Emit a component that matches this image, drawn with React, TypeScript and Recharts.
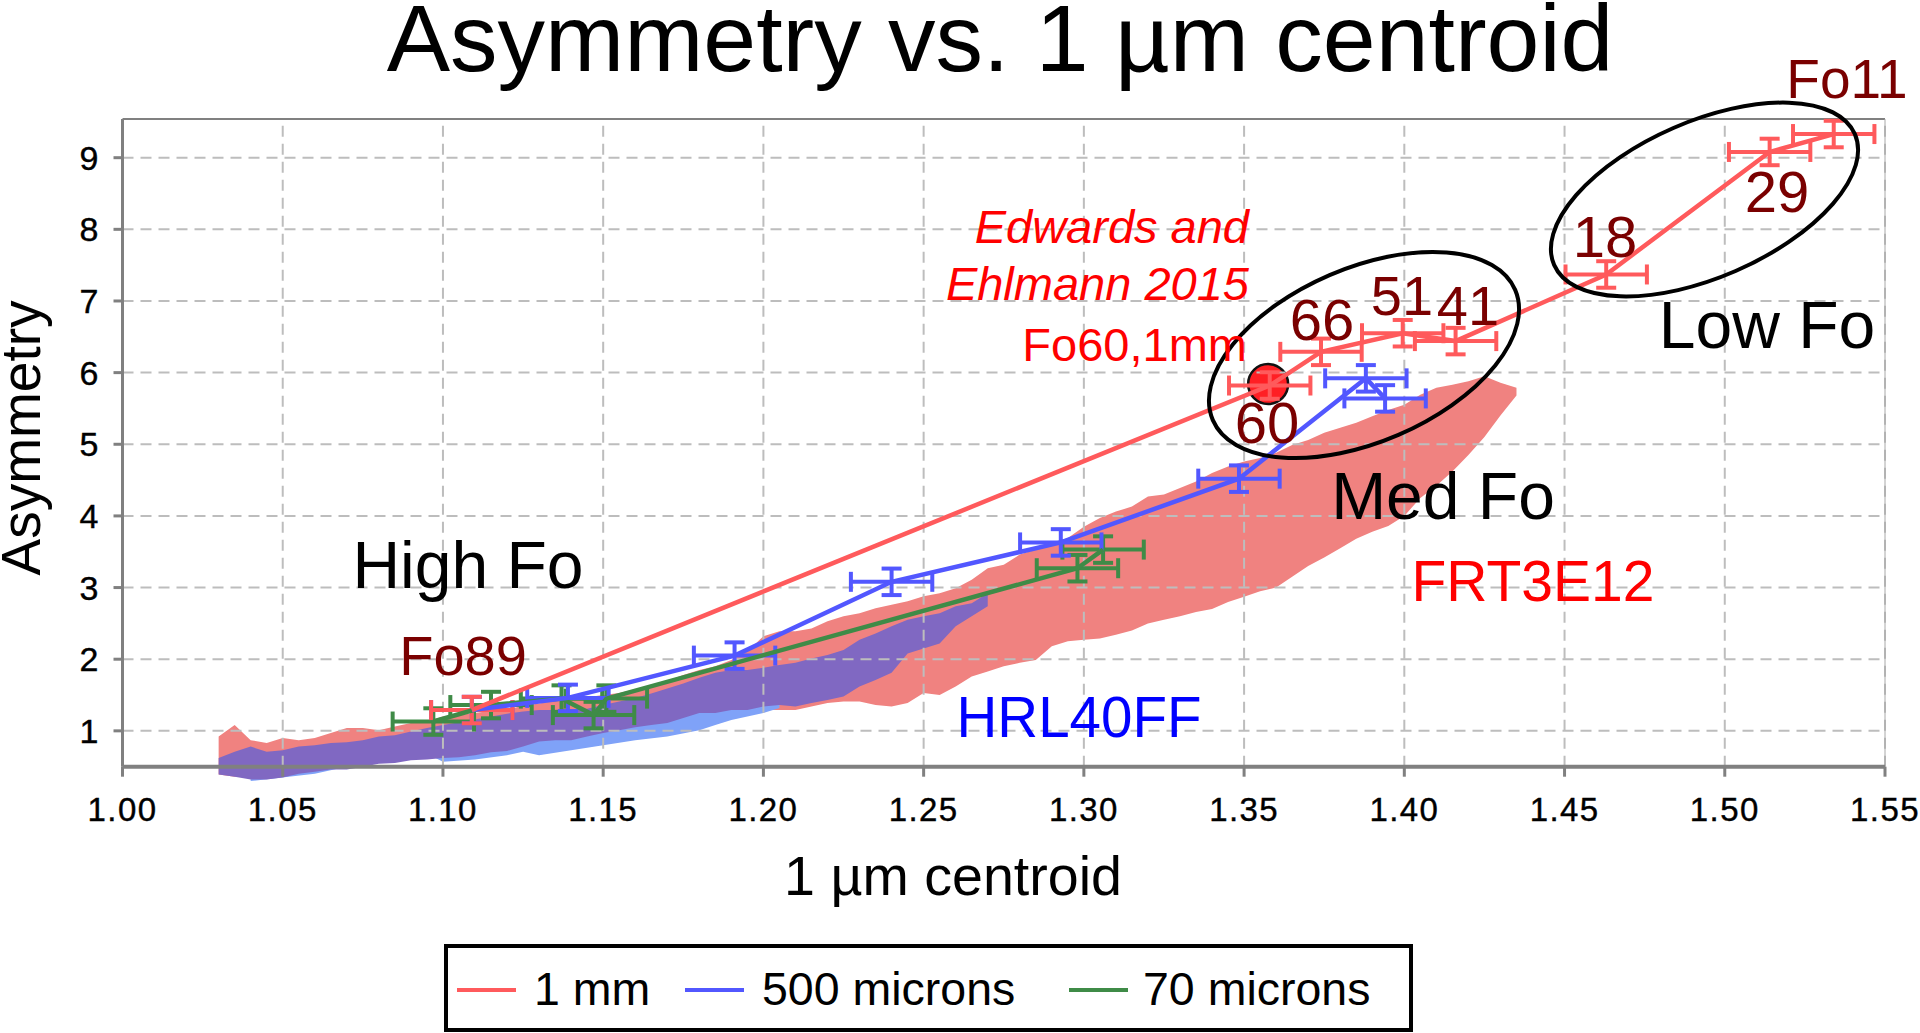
import {
  Area,
  ComposedChart,
  ErrorBar,
  Legend,
  ReferenceLine,
  Scatter,
  XAxis,
  YAxis,
} from "recharts";

const FONT = "'Liberation Sans', Arial, sans-serif";
const RED = "#FF5A5C";
const BLUE = "#5257FF";
const GREEN = "#3F8B47";
const DARK = "#7A0000";
const AXIS = "#808080";
const GRID = "#BDBDBD";

const xTicks = [1.0, 1.05, 1.1, 1.15, 1.2, 1.25, 1.3, 1.35, 1.4, 1.45, 1.5, 1.55];
const yTicks = [1, 2, 3, 4, 5, 6, 7, 8, 9];
const yBottom = 0.5;
const yTop = 9.54;

// 1 mm, Fo89 to Fo11
const oneMmX = [1.109, 1.358, 1.374, 1.3995, 1.416, 1.463, 1.514, 1.534];
const oneMmY = [1.29, 5.82, 6.29, 6.55, 6.44, 7.37, 9.08, 9.33];

const fiveHundredX = [1.109, 1.139, 1.191, 1.24, 1.2928, 1.3484, 1.388, 1.394];
const fiveHundredY = [1.29, 1.46, 2.05, 3.08, 3.63, 4.52, 5.92, 5.64];

const seventyX = [1.097, 1.115, 1.137, 1.147, 1.151, 1.298, 1.306];
const seventyY = [1.13, 1.36, 1.45, 1.22, 1.45, 3.27, 3.53];

const errX = 0.0127;
const errY = 0.185;

// Edwards and Ehlmann 2015 point
const fo60 = [{ x: 1.3575, y: 5.84 }];

// spectral clouds, read every 0.005 along the centroid axis
const cloudX = [
  1.03, 1.035, 1.04, 1.045, 1.05, 1.055, 1.06, 1.065, 1.07, 1.075,
  1.08, 1.085, 1.09, 1.095, 1.1, 1.105, 1.11, 1.115, 1.12, 1.125,
  1.13, 1.135, 1.14, 1.145, 1.15, 1.155, 1.16, 1.165, 1.17, 1.175,
  1.18, 1.185, 1.19, 1.195, 1.2, 1.205, 1.21, 1.215, 1.22, 1.225,
  1.23, 1.235, 1.24, 1.245, 1.25, 1.255, 1.26, 1.265, 1.27, 1.275,
  1.28, 1.285, 1.29, 1.295, 1.3, 1.305, 1.31, 1.315, 1.32, 1.325,
  1.33, 1.335, 1.34, 1.345, 1.35, 1.355, 1.36, 1.365, 1.37, 1.375,
  1.38, 1.385, 1.39, 1.395, 1.4, 1.405, 1.41, 1.415, 1.42, 1.425,
  1.43, 1.435,
];
const frtHigh = [
  0.92, 1.08, 0.87, 0.83, 0.9, 0.87, 0.9, 0.97, 1.04, 1.04,
  1.01, 1.06, 1.11, 1.13, 1.2, 1.22, 1.25, 1.28, 1.3, 1.35,
  1.38, 1.42, 1.44, 1.47, 1.5, 1.53, 1.58, 1.63, 1.7, 1.78,
  1.85, 1.9, 1.99, 2.11, 2.32, 2.39, 2.39, 2.43, 2.53, 2.6,
  2.64, 2.71, 2.76, 2.81, 2.88, 2.92, 2.99, 3.11, 3.27, 3.32,
  3.46, 3.53, 3.62, 3.69, 3.85, 3.97, 4.06, 4.13, 4.27, 4.3,
  4.39, 4.48, 4.6, 4.69, 4.76, 4.81, 4.88, 4.99, 5.06, 5.16,
  5.23, 5.3, 5.39, 5.48, 5.55, 5.69, 5.79, 5.83, 5.88, 5.95,
  5.86, 5.79,
];
const frtLow = [
  0.39, 0.36, 0.4, 0.4, 0.4, 0.42, 0.45, 0.47, 0.48, 0.52,
  0.56, 0.57, 0.6, 0.62, 0.64, 0.66, 0.68, 0.72, 0.75, 0.8,
  0.87, 0.9, 0.9, 0.94, 0.99, 1.03, 1.07, 1.1, 1.13, 1.2,
  1.27, 1.27, 1.31, 1.31, 1.29, 1.29, 1.29, 1.34, 1.39, 1.41,
  1.41, 1.36, 1.34, 1.39, 1.53, 1.5, 1.62, 1.76, 1.83, 1.9,
  1.95, 1.99, 2.18, 2.25, 2.27, 2.29, 2.34, 2.4, 2.5, 2.55,
  2.6, 2.66, 2.7, 2.8, 2.87, 2.95, 3.0, 3.15, 3.3, 3.42,
  3.55, 3.68, 3.78, 3.86, 4.0, 4.25, 4.42, 4.62, 4.85, 5.1,
  5.4, 5.68,
];
const hrlHigh = [
  0.62, 0.71, 0.78, 0.71, 0.73, 0.78, 0.8, 0.83, 0.84, 0.87,
  0.92, 0.94, 0.99, 1.04, 1.08, 1.12, 1.16, 1.2, 1.24, 1.27,
  1.29, 1.29, 1.3, 1.31, 1.36, 1.41, 1.46, 1.52, 1.59, 1.66,
  1.74, 1.81, 1.85, 1.85, 1.88, 1.92, 1.95, 2.01, 2.06, 2.13,
  2.27, 2.36, 2.46, 2.55, 2.6, 2.64, 2.74, 2.78, 2.92,
];
const hrlLow = [
  0.39, 0.36, 0.32, 0.32, 0.35, 0.4, 0.43, 0.46, 0.46, 0.5,
  0.54, 0.55, 0.59, 0.6, 0.62, 0.63, 0.66, 0.7, 0.72, 0.78,
  0.85, 0.87, 0.87, 0.92, 0.97, 1.01, 1.05, 1.08, 1.11, 1.18,
  1.25, 1.25, 1.29, 1.29, 1.34, 1.36, 1.34, 1.39, 1.43, 1.48,
  1.62, 1.71, 1.81, 2.08, 2.15, 2.22, 2.46, 2.6, 2.74,
];
const hrlFaintX = [1.04, 1.06, 1.08, 1.095, 1.1, 1.11, 1.12, 1.125, 1.13, 1.14, 1.15, 1.16, 1.17, 1.18, 1.185, 1.19, 1.195, 1.2, 1.205];
const hrlFaintLow = [0.3, 0.4, 0.6, 0.68, 0.57, 0.6, 0.66, 0.71, 0.66, 0.73, 0.8, 0.87, 0.92, 1.01, 1.08, 1.15, 1.2, 1.25, 1.32];
const hrlFaintHigh = [0.5, 0.5, 0.7, 0.8, 0.8, 0.9, 1.0, 1.0, 1.1, 1.1, 1.2, 1.3, 1.4, 1.5, 1.5, 1.5, 1.5, 1.6, 1.6];

const seriesNames = ["1 mm", "500 microns", "70 microns"];

const points = (xs: number[], ys: number[]) =>
  xs.map((x, i) => ({ x, y: ys[i], ex: errX, ey: errY }));
const band = (xs: number[], low: number[], high: number[]) =>
  low.map((l, i) => ({ x: xs[i], edge: [l, high[i]] }));

const noMark = () => null;
const fo60Mark = (p: any) => (
  <circle cx={p.cx} cy={p.cy} r={20} fill="#FF1F24" stroke="#111" strokeWidth={2.5} />
);

function XTick({ x, y, payload }: any) {
  return (
    <text x={x} y={y + 27} textAnchor="middle" fontSize={33} fontFamily={FONT} fill="#000" stroke="#000" strokeWidth={0.4} letterSpacing={1.4}>
      {payload.value.toFixed(2)}
    </text>
  );
}

function YTick({ x, y, payload }: any) {
  return (
    <text x={x} y={y + 12} textAnchor="end" fontSize={34} fontFamily={FONT} fill="#000" stroke="#000" strokeWidth={0.4}>
      {payload.value}
    </text>
  );
}

function LegendBox({ payload }: any) {
  const items = seriesNames.map((n) => (payload || []).find((p: any) => p.value === n)).filter(Boolean);
  const lefts = [457, 685, 1069];
  const textLefts = [534, 762, 1143];
  return (
    <div
      style={{
        position: "absolute",
        left: 444,
        top: 944,
        width: 969,
        height: 88,
        boxSizing: "border-box",
        border: "4px solid #000",
        background: "#fff",
      }}
    >
      {items.map((p: any, i: number) => (
        <div key={p.value}>
          <div
            style={{
              position: "absolute",
              left: lefts[i] - 448,
              top: 40,
              width: 59,
              height: 4,
              background: p.color,
            }}
          />
          <div
            style={{
              position: "absolute",
              left: textLefts[i] - 448,
              top: 14,
              fontFamily: FONT,
              fontSize: 46.5,
              lineHeight: "54px",
              whiteSpace: "nowrap",
              color: "#000",
            }}
          >
            {p.value}
          </div>
        </div>
      ))}
    </div>
  );
}

function Label({ x, y, size, color = "#000", anchor = "middle", italic = false, children }: any) {
  return (
    <text
      x={x}
      y={y}
      fontSize={size}
      fill={color}
      textAnchor={anchor}
      fontStyle={italic ? "italic" : "normal"}
      fontFamily={FONT}
    >
      {children}
    </text>
  );
}

export default function App() {
  return (
    <div style={{ position: "absolute", left: 0, top: 0, width: 1920, height: 1033, background: "#fff", overflow: "hidden" }}>
      <ComposedChart
        width={1920}
        height={1033}
        margin={{ top: 119, right: 35, bottom: 182, left: 0 }}
      >
        <XAxis
          dataKey="x"
          type="number"
          domain={[1.0, 1.55]}
          ticks={xTicks}
          axisLine={false}
          tickLine={false}
          tick={<XTick />}
          tickMargin={7}
          height={70}
          interval={0}
          allowDataOverflow
        />
        <YAxis
          dataKey="y"
          type="number"
          domain={[0.3, yTop]}
          ticks={yTicks}
          axisLine={false}
          tickLine={{ stroke: AXIS, strokeWidth: 3 }}
          tickSize={9}
          tickMargin={15}
          tick={<YTick />}
          width={122.5}
          interval={0}
          allowDataOverflow
        />

        <Area data={band(cloudX, frtLow, frtHigh)} dataKey="edge" type="linear" stroke="none" fill="#F08280" fillOpacity={1} dot={false} activeDot={false} legendType="none" isAnimationActive={false} />
        <Area data={band(hrlFaintX, hrlFaintLow, hrlFaintHigh)} dataKey="edge" type="linear" stroke="none" fill="#7FA2F8" fillOpacity={1} dot={false} activeDot={false} legendType="none" isAnimationActive={false} />
        <Area data={band(cloudX, hrlLow, hrlHigh)} dataKey="edge" type="linear" stroke="none" fill="#8068C2" fillOpacity={1} dot={false} activeDot={false} legendType="none" isAnimationActive={false} />

        {yTicks.map((t) => (
          <ReferenceLine key={"h" + t} segment={[{ x: 1.0, y: t }, { x: 1.55, y: t }]} stroke={GRID} strokeWidth={2} strokeDasharray="11 7" />
        ))}
        {xTicks.slice(1).map((t) => (
          <ReferenceLine key={"v" + t} segment={[{ x: t, y: yBottom }, { x: t, y: yTop }]} stroke={GRID} strokeWidth={2} strokeDasharray="11 7" />
        ))}

        <ReferenceLine segment={[{ x: 1.0, y: yTop }, { x: 1.55, y: yTop }]} stroke={AXIS} strokeWidth={2} />
        <ReferenceLine segment={[{ x: 1.55, y: yBottom }, { x: 1.55, y: yTop }]} stroke="#A8A8A8" strokeWidth={1} />
        <ReferenceLine segment={[{ x: 1.0, y: yBottom }, { x: 1.0, y: yTop }]} stroke={AXIS} strokeWidth={3} />
        <ReferenceLine segment={[{ x: 1.0, y: yBottom }, { x: 1.55, y: yBottom }]} stroke={AXIS} strokeWidth={4} />
        {xTicks.map((t) => (
          <ReferenceLine key={"t" + t} segment={[{ x: t, y: yBottom }, { x: t, y: yBottom - 0.14 }]} stroke={AXIS} strokeWidth={3} />
        ))}

        <Scatter data={fo60} shape={fo60Mark} legendType="none" isAnimationActive={false} zIndex={100} />

        <Scatter name={seriesNames[2]} data={points(seventyX, seventyY)} fill={GREEN} line={{ stroke: GREEN, strokeWidth: 4.5 }} lineJointType="linear" shape={noMark} legendType="line" isAnimationActive={false}>
          <ErrorBar dataKey="ex" direction="x" width={10} stroke={GREEN} strokeWidth={4} isAnimationActive={false} />
          <ErrorBar dataKey="ey" direction="y" width={10} stroke={GREEN} strokeWidth={4} isAnimationActive={false} />
        </Scatter>
        <Scatter name={seriesNames[1]} data={points(fiveHundredX, fiveHundredY)} fill={BLUE} line={{ stroke: BLUE, strokeWidth: 4.5 }} lineJointType="linear" shape={noMark} legendType="line" isAnimationActive={false}>
          <ErrorBar dataKey="ex" direction="x" width={10} stroke={BLUE} strokeWidth={4} isAnimationActive={false} />
          <ErrorBar dataKey="ey" direction="y" width={10} stroke={BLUE} strokeWidth={4} isAnimationActive={false} />
        </Scatter>
        <Scatter name={seriesNames[0]} data={points(oneMmX, oneMmY)} fill={RED} line={{ stroke: RED, strokeWidth: 4.5 }} lineJointType="linear" shape={noMark} legendType="line" isAnimationActive={false}>
          <ErrorBar dataKey="ex" direction="x" width={10} stroke={RED} strokeWidth={4} isAnimationActive={false} />
          <ErrorBar dataKey="ey" direction="y" width={10} stroke={RED} strokeWidth={4} isAnimationActive={false} />
        </Scatter>

        <Legend content={<LegendBox />} wrapperStyle={{ left: 0, top: 0, width: 0, height: 0 }} />
      </ComposedChart>

      <svg width={1920} height={1033} style={{ position: "absolute", left: 0, top: 0, pointerEvents: "none" }}>
        <Label x={1000} y={71} size={95}>Asymmetry vs. 1 µm centroid</Label>
        <Label x={953} y={895} size={55.6}>1 µm centroid</Label>
        <g transform="translate(40 438) rotate(-90)">
          <Label x={0} y={0} size={55}>Asymmetry</Label>
        </g>

        <ellipse cx={1364} cy={355} rx={164.6} ry={87} transform="rotate(-23.3 1364 355)" fill="none" stroke="#000" strokeWidth={4} />
        <ellipse cx={1704.5} cy={199.5} rx={164} ry={78} transform="rotate(-23.5 1704.5 199.5)" fill="none" stroke="#000" strokeWidth={4} />

        <Label x={1249} y={243} size={47} color="#FF0000" anchor="end" italic>Edwards and</Label>
        <Label x={1249} y={300} size={47} color="#FF0000" anchor="end" italic>Ehlmann 2015</Label>
        <Label x={1247} y={361} size={47} color="#FF0000" anchor="end">Fo60,1mm</Label>

        <Label x={1322} y={340} size={58} color={DARK}>66</Label>
        <Label x={1402} y={315} size={56} color={DARK}>51</Label>
        <Label x={1468} y={325} size={56} color={DARK}>41</Label>
        <Label x={1267} y={443} size={58} color={DARK}>60</Label>
        <Label x={1605} y={257} size={58} color={DARK}>18</Label>
        <Label x={1777} y={212} size={58} color={DARK}>29</Label>
        <Label x={1847} y={98} size={55} color={DARK}>Fo11</Label>
        <Label x={463} y={675} size={56} color={DARK}>Fo89</Label>

        <Label x={468} y={588} size={66}>High Fo</Label>
        <Label x={1443} y={519} size={66}>Med Fo</Label>
        <Label x={1767} y={348} size={66}>Low Fo</Label>
        <Label x={1533} y={601} size={57} color="#FF0000">FRT3E12</Label>
        <Label x={1079} y={737} size={56.5} color="#0000FF">HRL40FF</Label>
      </svg>
    </div>
  );
}
